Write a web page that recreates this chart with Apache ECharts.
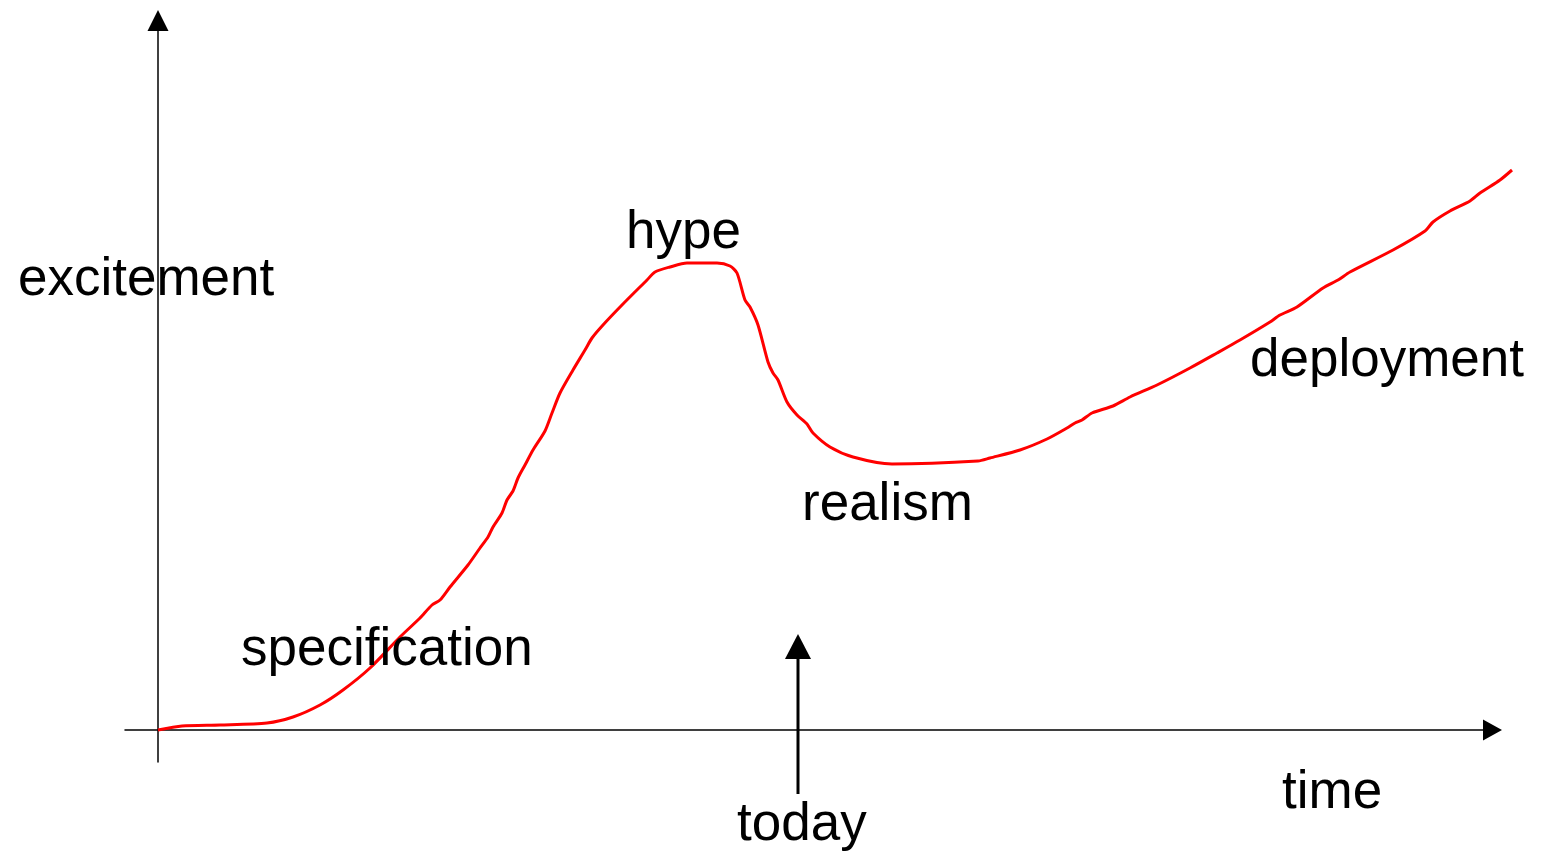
<!DOCTYPE html>
<html>
<head>
<meta charset="utf-8">
<style>
  html, body { margin: 0; padding: 0; background: #fff; }
  #chart { width: 1542px; height: 852px; }
</style>
<script src="https://cdn.jsdelivr.net/npm/echarts@6/dist/echarts.min.js"></script>
</head>
<body>
<div id="chart"></div>
<script>
// Curve: time (x) vs excitement (y)
const curveTime = [0, 2.4, 6.2, 10.9, 13.5, 16.2, 18.5, 21.2, 24.2, 26.2, 27.4, 28.2, 29.2, 31.0, 32.2, 33.0, 33.5, 34.4, 34.9, 35.5, 36.0, 36.7, 37.5, 38.7, 39.4, 40.2, 41.5, 42.7, 43.4, 44.5, 46.4, 48.9, 49.7, 51.2, 52.9, 55.9, 57.2, 57.9, 58.7, 59.2, 60.0, 61.0, 61.5, 62.0, 62.9, 63.9, 64.9, 65.5, 67.2, 69.5, 73.4, 82.0, 83.2, 86.2, 88.9, 90.9, 91.7, 92.4, 93.4, 95.5, 97.2, 99.9, 103.2, 105.9, 108.2, 111.2, 112.2, 113.9, 116.5, 118.0, 119.2, 123.5, 126.7, 127.5, 129.2, 131.2, 132.2, 134.2, 135.4];
const curveExcitement = [0, 0.4, 0.5, 0.7, 1.3, 2.5, 4.0, 6.2, 9.3, 11.2, 12.5, 13.0, 14.3, 16.5, 18.2, 19.3, 20.3, 21.7, 23.0, 23.9, 25.2, 26.5, 28.0, 29.9, 31.7, 33.7, 36.0, 38.0, 39.2, 40.5, 42.5, 45.0, 45.8, 46.3, 46.7, 46.7, 46.4, 45.7, 43.0, 42.3, 40.5, 36.8, 35.7, 35.0, 32.8, 31.5, 30.6, 29.7, 28.3, 27.3, 26.6, 26.9, 27.2, 28.0, 29.1, 30.2, 30.7, 31.0, 31.7, 32.4, 33.3, 34.5, 36.2, 37.7, 39.0, 40.8, 41.5, 42.3, 44.2, 45.0, 45.8, 48.0, 49.9, 50.8, 51.9, 52.9, 53.7, 55.0, 56.0];

// "today" marker: time position, start and end excitement of the arrow
const todayTime = 64;
const todayFrom = -6.4;
const todayTo = 9.6;

// Axis extents (visible axes) and the wider plotting extent for the curve
const xRange = [-3.3, 133.45];
const yRange = [-3.2, 70.95];
const xPlotRange = [-3.3, 136.45];

// Labels
const labelTexts = ['excitement', 'hype', 'specification', 'realism', 'deployment', 'time', 'today'];

const curveData = curveTime.map((t, i) => [t, curveExcitement[i]]);

const FONT = '53px "Liberation Sans", Arial, sans-serif';
const labelPos = [
  [18, 280], [626, 233], [241, 650], [802, 505], [1250, 361], [1282, 793], [737, 825]
];

const chart = echarts.init(document.getElementById('chart'), null, { renderer: 'canvas' });

const hiddenAxis = {
  type: 'value', show: false,
  axisLine: { show: false }, axisTick: { show: false },
  axisLabel: { show: false }, splitLine: { show: false }
};

function visibleAxis(range, size) {
  return {
    type: 'value',
    gridIndex: 0,
    min: range[0], max: range[1],
    axisLine: {
      show: true,
      onZero: true,
      symbol: ['none', 'triangle'],
      symbolSize: size,
      lineStyle: { color: '#000', width: 1.5 }
    },
    axisTick: { show: false },
    axisLabel: { show: false },
    splitLine: { show: false }
  };
}

chart.setOption({
  animation: false,
  backgroundColor: '#fff',
  grid: [
    { left: 125, right: 49.5, top: 20.5, bottom: 90, containLabel: false },
    { left: 125, right: 19.5, top: 20.5, bottom: 90, containLabel: false }
  ],
  xAxis: [
    visibleAxis(xRange, [21, 19]),
    Object.assign({}, hiddenAxis, { gridIndex: 1, min: xPlotRange[0], max: xPlotRange[1] })
  ],
  yAxis: [
    visibleAxis(yRange, [21, 21]),
    Object.assign({}, hiddenAxis, { gridIndex: 1, min: yRange[0], max: yRange[1] })
  ],
  series: [
    {
      type: 'line',
      xAxisIndex: 1, yAxisIndex: 1,
      data: curveData,
      showSymbol: false,
      clip: false,
      smooth: 0.25,
      lineStyle: { color: '#ff0000', width: 3 },
      z: 3
    },
    {
      type: 'custom',
      xAxisIndex: 0, yAxisIndex: 0,
      clip: false,
      data: [[todayTime, todayFrom, todayTo]],
      renderItem: function (params, api) {
        const p0 = api.coord([api.value(0), api.value(1)]);
        const p1 = api.coord([api.value(0), api.value(2)]);
        const head = 25, hw = 13;
        return {
          type: 'group',
          children: [
            { type: 'line', shape: { x1: p0[0], y1: p0[1], x2: p1[0], y2: p1[1] + head },
              style: { stroke: '#000', lineWidth: 3 } },
            { type: 'polygon', shape: { points: [[p1[0], p1[1]], [p1[0] - hw, p1[1] + head], [p1[0] + hw, p1[1] + head]] },
              style: { fill: '#000' } }
          ]
        };
      },
      z: 4
    }
  ],
  graphic: labelTexts.map((t, i) => ({
    type: 'text',
    x: labelPos[i][0],
    y: labelPos[i][1],
    z: 10,
    style: { text: t, font: FONT, fill: '#000', align: 'left', verticalAlign: 'middle' }
  }))
});
</script>
</body>
</html>
